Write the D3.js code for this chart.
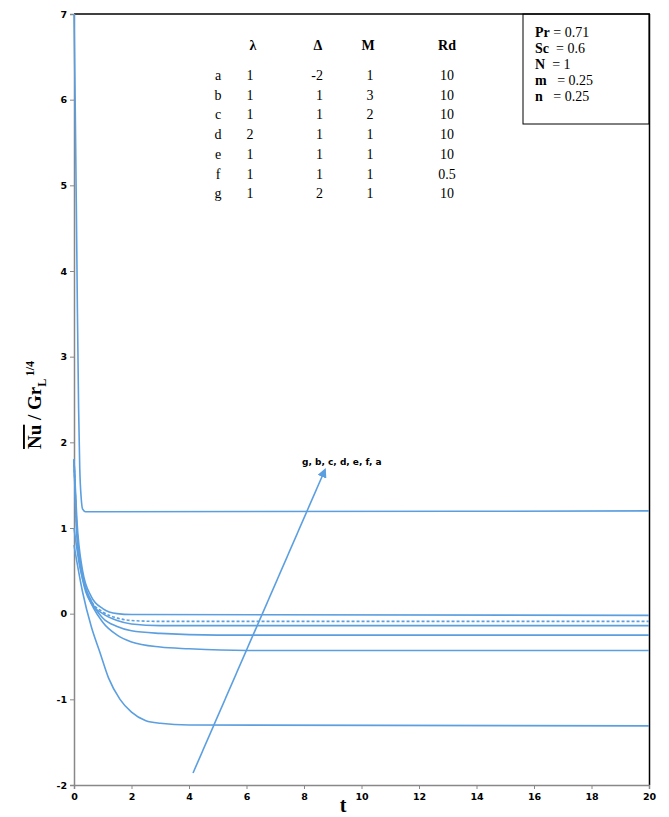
<!DOCTYPE html>
<html>
<head>
<meta charset="utf-8">
<script src="https://cdn.jsdelivr.net/npm/d3@7"></script>
<style>
  body { margin: 0; background: #fff; }
  .tick text { font-family: "DejaVu Sans", sans-serif; font-weight: bold; font-size: 9.5px; fill: #000; }
</style>
</head>
<body>
<div class="chart"></div>
<script>
// curve samples: [t, Nu/Gr^1/4]
var curveA = [[0,7],[0.04,6],[0.08,4.8],[0.12,3.5],[0.16,2.4],[0.2,1.7],[0.25,1.35],[0.3,1.22],[0.4,1.19],[1,1.19],[20,1.2]];
var curveB = [[0,1.0],[0.2,0.55],[0.5,0.2],[1,-0.1],[1.5,-0.25],[2,-0.33],[3,-0.39],[4,-0.41],[6,-0.43],[20,-0.43]];
var curveC = [[0,1.8],[0.1,1.0],[0.3,0.45],[0.6,0.15],[1,-0.05],[1.5,-0.15],[2,-0.2],[3,-0.23],[5,-0.25],[20,-0.25]];
var curveD = [[0,1.8],[0.1,0.9],[0.3,0.4],[0.6,0.12],[1,0.0],[1.5,-0.08],[2,-0.12],[3,-0.14],[20,-0.14]];
var curveE = [[0,1.8],[0.1,1.0],[0.3,0.45],[0.6,0.15],[1,0.02],[1.5,-0.05],[2,-0.08],[3,-0.09],[20,-0.09]];
var curveF = [[0,1.8],[0.1,1.1],[0.3,0.5],[0.6,0.2],[1,0.06],[1.5,0.0],[2,-0.01],[20,-0.02]];
var curveG = [[0,0.8],[0.3,0.25],[0.6,-0.15],[0.9,-0.45],[1.2,-0.75],[1.6,-1.0],[2,-1.15],[2.5,-1.25],[3,-1.28],[4,-1.3],[20,-1.31]];

var curves = [curveA, curveB, curveC, curveD, curveE, curveF, curveG];
var dashed = [false, false, false, false, true, false, false];

var xTicks = [0,2,4,6,8,10,12,14,16,18,20];
var yTicks = [-2,-1,0,1,2,3,4,5,6,7];

// parameter table
var tableHead = ["λ", "Δ", "M", "Rd"];
var tableRows = ["a","b","c","d","e","f","g"];
var lambdaVals = ["1","1","1","2","1","1","1"];
var deltaVals = ["-2","1","1","1","1","1","2"];
var mVals = ["1","3","2","1","1","1","1"];
var rdVals = ["10","10","10","10","10","0.5","10"];

var paramNames = ["Pr", "Sc", "N", "m", "n"];
var paramVals = ["= 0.71", " = 0.6", " = 1", "  = 0.25", "  = 0.25"];

var arrowFrom = [4.14, -1.86];
var arrowTo = [8.73, 1.68];

var blue = "#5b9fe0";

var svg = d3.select(".chart").append("svg")
            .attr("width", 669)
            .attr("height", 817);

var x = d3.scaleLinear().domain([0, 20]).range([74, 649]);
var y = d3.scaleLinear().domain([-2, 7]).range([785, 14]);

// frame: top and right black
svg.append("line")
   .attr("x1", 74).attr("x2", 650)
   .attr("y1", 14).attr("y2", 14)
   .style("stroke", "#000").style("stroke-width", 1.5);
svg.append("line")
   .attr("x1", 649.5).attr("x2", 649.5)
   .attr("y1", 14).attr("y2", 785)
   .style("stroke", "#000").style("stroke-width", 1.5);

// axes
var plain = function(d){ return String(d); };
svg.append("g")
   .attr("transform", "translate(0,785)")
   .call(d3.axisBottom(x).tickValues(xTicks).tickFormat(plain).tickSize(4).tickPadding(4));
svg.append("g")
   .attr("transform", "translate(74,0)")
   .call(d3.axisLeft(y).tickValues(yTicks).tickFormat(plain).tickSize(4).tickPadding(3));
svg.selectAll(".domain").style("stroke", "#888").style("stroke-width", 1.5);
svg.selectAll(".tick line").style("stroke", "#888");

// curves
var line = d3.line()
   .x(function(d){ return x(d[0]); })
   .y(function(d){ return y(d[1]); })
   .curve(d3.curveMonotoneX);

svg.append("g").selectAll("path")
   .data(curves)
   .enter().append("path")
   .attr("d", line)
   .style("fill", "none")
   .style("stroke", blue)
   .style("stroke-width", 1.6)
   .style("stroke-dasharray", function(d, i){ return dashed[i] ? "3,2" : null; });

// arrow
svg.append("defs").append("marker")
   .attr("id", "head")
   .attr("viewBox", "0 0 10 10")
   .attr("refX", 8).attr("refY", 5)
   .attr("markerWidth", 6).attr("markerHeight", 6)
   .attr("orient", "auto")
   .append("path")
   .attr("d", "M0,0 L10,5 L0,10 z")
   .style("fill", blue);

svg.append("line")
   .attr("x1", x(arrowFrom[0])).attr("y1", y(arrowFrom[1]))
   .attr("x2", x(arrowTo[0])).attr("y2", y(arrowTo[1]))
   .style("stroke", blue)
   .style("stroke-width", 1.6)
   .attr("marker-end", "url(#head)");

svg.append("text")
   .attr("x", 302).attr("y", 465)
   .style("font-family", "DejaVu Sans, sans-serif")
   .style("font-weight", "bold")
   .style("font-size", "9px")
   .text("g, b, c, d, e, f, a");

// axis titles
svg.append("text")
   .attr("x", 343).attr("y", 812)
   .attr("text-anchor", "middle")
   .style("font-family", "Liberation Serif, serif")
   .style("font-weight", "bold")
   .style("font-size", "20px")
   .text("t");

var ylab = svg.append("text")
   .attr("transform", "translate(41,405) rotate(-90)")
   .attr("text-anchor", "middle")
   .style("font-family", "Liberation Serif, serif")
   .style("font-weight", "bold")
   .style("font-size", "19px");
ylab.append("tspan").style("text-decoration", "overline").text("Nu");
ylab.append("tspan").text(" / Gr");
ylab.append("tspan").attr("dy", 5).style("font-size", "12px").text("L");
ylab.append("tspan").attr("dy", -12).style("font-size", "12px").text(" 1/4");

// table
var serif = "Liberation Serif, serif";
var colX = [253, 318, 368, 447];
svg.append("g").selectAll("text")
   .data(tableHead)
   .enter().append("text")
   .attr("x", function(d, i){ return colX[i]; })
   .attr("y", 50)
   .attr("text-anchor", "middle")
   .style("font-family", serif)
   .style("font-weight", "bold")
   .style("font-size", "14px")
   .text(function(d){ return d; });

var rowY = function(i){ return 80 + i * 19.7; };
var cols = [
  {vals: tableRows, x: 218, anchor: "middle"},
  {vals: lambdaVals, x: 250, anchor: "middle"},
  {vals: deltaVals, x: 323, anchor: "end"},
  {vals: mVals, x: 370, anchor: "middle"},
  {vals: rdVals, x: 447, anchor: "middle"}
];
cols.forEach(function(c){
  svg.append("g").selectAll("text")
     .data(c.vals)
     .enter().append("text")
     .attr("x", c.x)
     .attr("y", function(d, i){ return rowY(i); })
     .attr("text-anchor", c.anchor)
     .style("font-family", serif)
     .style("font-size", "14px")
     .text(function(d){ return d; });
});

// parameter box
svg.append("rect")
   .attr("x", 523).attr("y", 14)
   .attr("width", 126).attr("height", 110)
   .style("fill", "none")
   .style("stroke", "#000")
   .style("stroke-width", 1);

paramNames.forEach(function(p, i){
  var t = svg.append("text")
     .attr("x", 535).attr("y", 37 + i * 16)
     .style("font-family", serif)
     .style("font-size", "14px")
     .attr("xml:space", "preserve");
  t.append("tspan").style("font-weight", "bold").text(p);
  t.append("tspan").text(" " + paramVals[i]);
});
</script>
</body>
</html>
